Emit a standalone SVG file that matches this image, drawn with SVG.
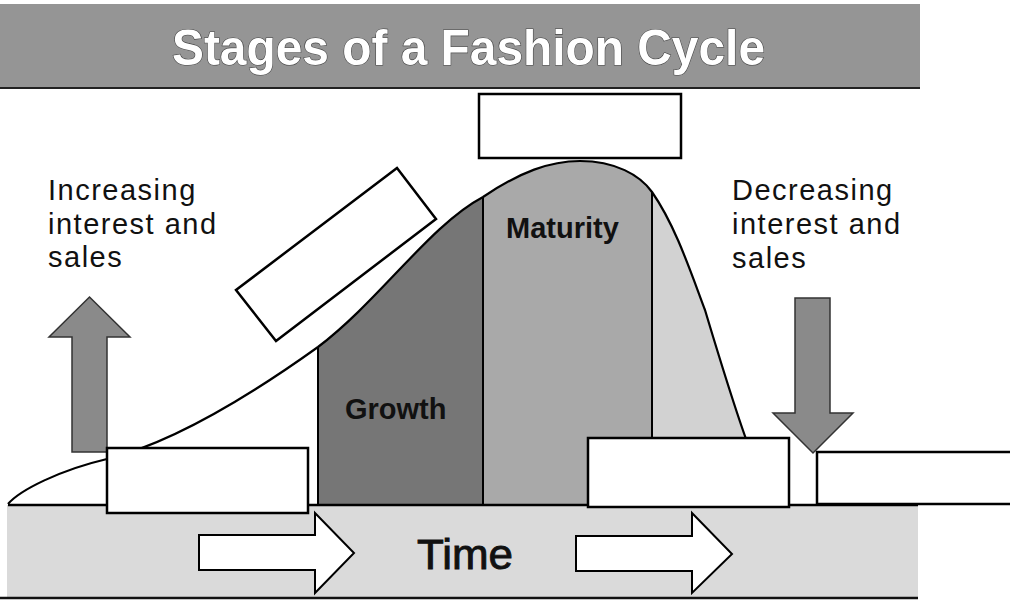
<svg xmlns="http://www.w3.org/2000/svg" width="1010" height="603" viewBox="0 0 1010 603">
<style>
.box{fill:#fff;stroke:#000;stroke-width:2.5}
.lbl{font-family:"Liberation Sans",Arial,sans-serif;font-size:29px;letter-spacing:1.5px;fill:#111}
.stage{font-family:"Liberation Sans",Arial,sans-serif;font-size:29px;font-weight:bold;fill:#111}
.harrow{fill:#fff;stroke:#000;stroke-width:2}
.varrow{fill:#8a8a8a;stroke:#333;stroke-width:1.5}
.div{stroke:#000;stroke-width:2}
</style>
<defs>
<clipPath id="under">
<path d="M8,504 C20,490 60,470 107,459 C160,446 230,410 318,347 C380,300 430,225 483,197 C520,172 550,161 580,161 C615,161 640,175 652,192 C675,225 690,270 705,310 C720,360 735,410 750,450 L770,505 L8,505 Z"/>
</clipPath>
</defs>
<rect width="1010" height="603" fill="#fff"/>
<g id="title">
<rect x="0" y="4" width="920" height="84" fill="#959595"/>
<line x1="0" y1="88" x2="920" y2="88" stroke="#222" stroke-width="2"/>
<text x="468.5" y="65" text-anchor="middle" textLength="593" lengthAdjust="spacingAndGlyphs" font-family="'Liberation Sans',Arial,sans-serif" font-size="50" font-weight="bold" fill="#fff" stroke="#444" stroke-width="1.2" paint-order="stroke">Stages of a Fashion Cycle</text>
</g>
<g id="curve">
<g clip-path="url(#under)">
<rect x="318" y="100" width="165" height="405" fill="#767676"/>
<rect x="483" y="100" width="169" height="405" fill="#a9a9a9"/>
<rect x="652" y="100" width="150" height="405" fill="#d2d2d2"/>
<line class="div" x1="318" y1="100" x2="318" y2="505"/>
<line class="div" x1="483" y1="100" x2="483" y2="505"/>
<line class="div" x1="652" y1="100" x2="652" y2="505"/>
</g>
<path d="M8,504 C20,490 60,470 107,459 C160,446 230,410 318,347 C380,300 430,225 483,197 C520,172 550,161 580,161 C615,161 640,175 652,192 C675,225 690,270 705,310 C720,360 735,410 750,450 L770,505" fill="none" stroke="#000" stroke-width="2.2"/>
</g>
<g id="stage-growth"><text class="stage" x="345" y="419">Growth</text></g>
<g id="stage-maturity"><text class="stage" x="506" y="238">Maturity</text></g>
<g id="time-band">
<rect x="7" y="505" width="911" height="93" fill="#dadada"/>
<line x1="8" y1="505" x2="918" y2="505" stroke="#000" stroke-width="2.5"/>
<line x1="0" y1="598" x2="918" y2="598" stroke="#111" stroke-width="2.5"/>
<text x="417" y="569" textLength="96" lengthAdjust="spacingAndGlyphs" font-family="'Liberation Sans',Arial,sans-serif" font-size="42" fill="#111" stroke="#111" stroke-width="0.9">Time</text>
</g>
<g id="connectors">
<path class="harrow" d="M199,535 L315,535 L315,513 L354,553 L315,593 L315,570 L199,570 Z"/>
<path class="harrow" d="M576,536 L692,536 L692,513 L732,554 L692,593 L692,571 L576,571 Z"/>
<path class="varrow" d="M72,452 L72,337 L49,337 L89.5,297 L130,337 L107,337 L107,452 Z"/>
<path class="varrow" d="M795,298 L830,298 L830,413 L853,413 L813,453 L773,413 L795,413 Z"/>
</g>
<g id="box-peak"><rect class="box" x="479" y="94" width="202" height="64"/></g>
<g id="box-rise"><polygon class="box" points="397,168 436,219 276,341 236,290"/></g>
<g id="box-intro"><rect class="box" x="107" y="448" width="201" height="65"/></g>
<g id="box-decline"><rect class="box" x="588" y="438" width="201" height="69"/></g>
<g id="box-obsolete"><path class="box" d="M1012,452 L817,452 L817,504 L1012,504"/></g>
<g id="label-increasing">
<text class="lbl" x="48" y="200">Increasing</text>
<text class="lbl" x="48" y="234">interest and</text>
<text class="lbl" x="48" y="267">sales</text>
</g>
<g id="label-decreasing">
<text class="lbl" x="732" y="200">Decreasing</text>
<text class="lbl" x="732" y="234">interest and</text>
<text class="lbl" x="732" y="268">sales</text>
</g>
</svg>
